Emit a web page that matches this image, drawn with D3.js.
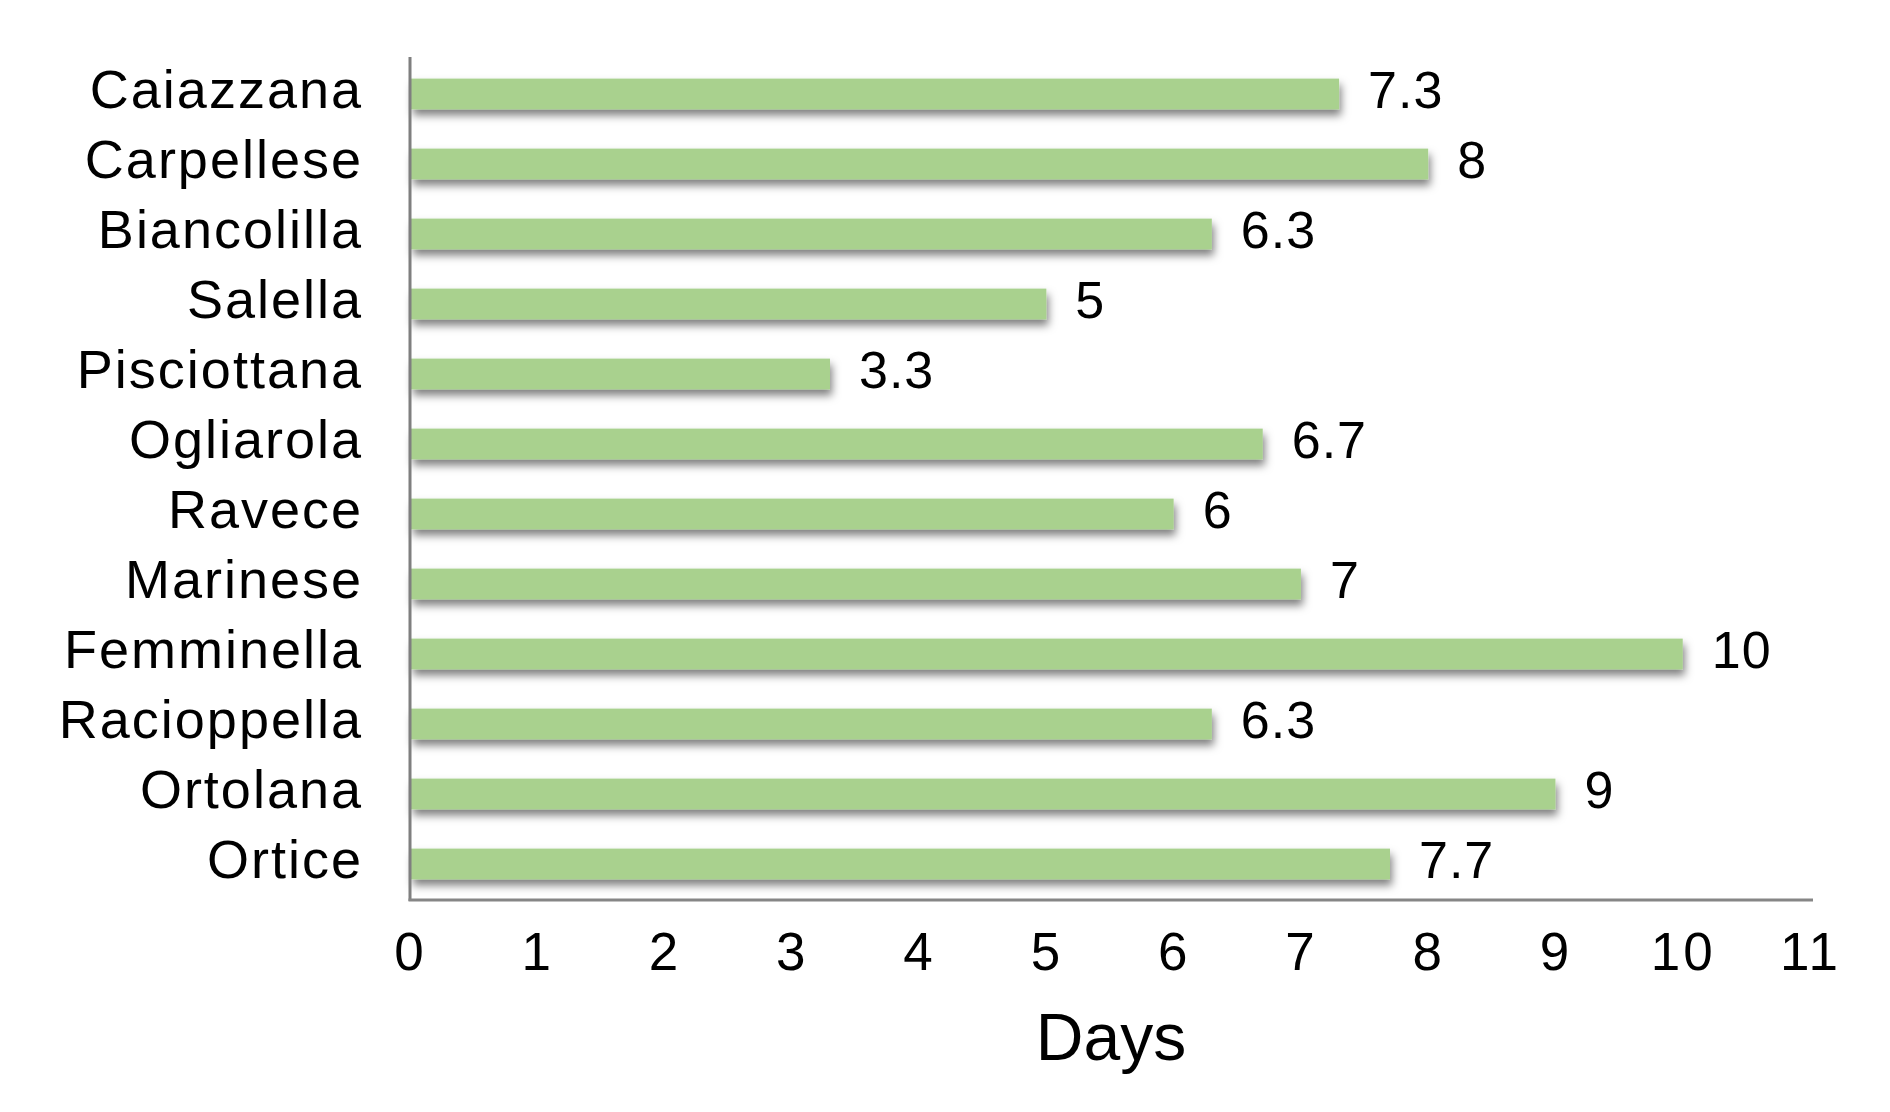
<!DOCTYPE html>
<html>
<head>
<meta charset="utf-8">
<script src="https://cdn.jsdelivr.net/npm/d3@7"></script>
<style>
  html, body { margin: 0; padding: 0; background: #fff; }
  svg { display: block; }
  text { font-family: "Liberation Sans", Arial, Helvetica, sans-serif; fill: #000; }
</style>
</head>
<body>
<svg id="chart" width="1890" height="1112"></svg>
<script>
const categories = ["Caiazzana","Carpellese","Biancolilla","Salella","Pisciottana","Ogliarola","Ravece","Marinese","Femminella","Racioppella","Ortolana","Ortice"];
const values = [7.3, 8, 6.3, 5, 3.3, 6.7, 6, 7, 10, 6.3, 9, 7.7];
const valueLabels = ["7.3","8","6.3","5","3.3","6.7","6","7","10","6.3","9","7.7"];
const xTicks = [0,1,2,3,4,5,6,7,8,9,10,11];
const xTitle = "Days";

(function () {
const svg = d3.select("#chart");
const pLeft = 410, pRight = 1810, pTop = 59, pBottom = 899;

const x = d3.scaleLinear().domain([0, 11]).range([pLeft, pRight]);
const y = d3.scaleBand().domain(categories).range([pTop, pBottom]).paddingInner(0.56).paddingOuter(0.28);

const defs = svg.append("defs");
const f = defs.append("filter").attr("id", "shadow").attr("x", "-5%").attr("y", "-50%").attr("width", "115%").attr("height", "250%");
f.append("feDropShadow").attr("dx", 2).attr("dy", 6).attr("stdDeviation", 4.5)
  .attr("flood-color", "#000").attr("flood-opacity", 0.5);

const data = categories.map((c, i) => ({c, v: values[i], l: valueLabels[i]}));

svg.append("g").selectAll("rect").data(data).join("rect")
  .attr("x", x(0) + 1)
  .attr("y", d => y(d.c))
  .attr("width", d => x(d.v) - x(0) - 1)
  .attr("height", y.bandwidth())
  .attr("fill", "#a9d18e")
  .attr("filter", "url(#shadow)");

// value labels
svg.append("g").selectAll("text").data(data).join("text")
  .attr("x", d => x(d.v) + 29)
  .attr("y", d => y(d.c) + y.bandwidth() / 2 + 14)
  .attr("font-size", 52)
  .attr("letter-spacing", 1)
  .text(d => d.l);

// category labels
svg.append("g").selectAll("text").data(data).join("text")
  .attr("x", 363)
  .attr("y", d => y(d.c) + y.bandwidth() / 2 + 14)
  .attr("text-anchor", "end")
  .attr("font-size", 54)
  .attr("letter-spacing", 2)
  .text(d => d.c);

// axes lines
svg.append("line").attr("x1", pLeft).attr("x2", pLeft).attr("y1", 57).attr("y2", 901)
  .attr("stroke", "#7f7f7f").attr("stroke-width", 3);
svg.append("line").attr("x1", pLeft - 1.5).attr("x2", 1813).attr("y1", 900).attr("y2", 900)
  .attr("stroke", "#868686").attr("stroke-width", 3);

// x axis tick labels
const xAxis = d3.axisBottom(x).tickValues(xTicks).tickSize(0).tickPadding(0).tickFormat(d3.format("d"));
const gx = svg.append("g").attr("transform", "translate(0,900)").call(xAxis);
gx.select(".domain").remove();
gx.selectAll("text")
  .attr("font-size", 53)
  .attr("font-family", "Liberation Sans, Arial, sans-serif")
  .attr("fill", "#000")
  .attr("letter-spacing", 3)
  .attr("dy", null)
  .attr("y", 70);

svg.append("text")
  .attr("x", (pLeft + 1812) / 2)
  .attr("y", 1060)
  .attr("text-anchor", "middle")
  .attr("font-size", 66)
  .text(xTitle);
})();
</script>
</body>
</html>
